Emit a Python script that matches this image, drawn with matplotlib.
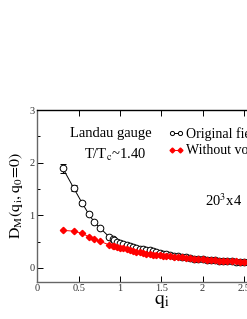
import numpy as np
import matplotlib
matplotlib.use("Agg")
import matplotlib.pyplot as plt
from matplotlib.ticker import MultipleLocator, FormatStrFormatter
from matplotlib.lines import Line2D

plt.rcParams['font.family'] = ['Liberation Serif', 'DejaVu Serif']
plt.rcParams['mathtext.fontset'] = 'stix'

# momenta q_i
q = [0.31, 0.44, 0.54, 0.62, 0.69, 0.76, 0.87, 0.91, 0.93, 0.96, 1.00, 1.04,
     1.08, 1.12, 1.16, 1.20, 1.24, 1.28, 1.32, 1.36, 1.40, 1.44, 1.48, 1.52,
     1.56, 1.60, 1.65, 1.70, 1.75, 1.80, 1.85, 1.90, 1.95, 2.00, 2.05, 2.10,
     2.15, 2.20, 2.25, 2.30, 2.35, 2.40, 2.45, 2.50, 2.55, 2.60]

# original field
d_orig = [1.89, 1.52, 1.24, 1.03, 0.87, 0.76, 0.59, 0.55, 0.53, 0.50, 0.48, 0.46,
          0.44, 0.42, 0.40, 0.385, 0.37, 0.355, 0.345, 0.335, 0.32, 0.305, 0.29, 0.275,
          0.26, 0.25, 0.235, 0.22, 0.21, 0.20, 0.19, 0.18, 0.175, 0.165, 0.16, 0.15,
          0.145, 0.14, 0.135, 0.13, 0.125, 0.12, 0.115, 0.115, 0.11, 0.11]
e_orig = [0.08, 0.05, 0.04, 0.03, 0.02, 0.02, 0.01, 0.01, 0.01, 0.01, 0.01, 0.01,
          0.01, 0.01, 0.01, 0.01, 0.01, 0.01, 0.01, 0.01, 0.01, 0.01, 0.01, 0.01,
          0.01, 0.01, 0.01, 0.01, 0.01, 0.01, 0.01, 0.01, 0.01, 0.01, 0.01, 0.01,
          0.01, 0.01, 0.01, 0.01, 0.01, 0.01, 0.01, 0.01, 0.01, 0.01]

# without vortices
d_novort = [0.715, 0.70, 0.66, 0.595, 0.545, 0.505, 0.44, 0.42, 0.41, 0.40, 0.385, 0.375,
            0.355, 0.34, 0.325, 0.31, 0.295, 0.285, 0.27, 0.26, 0.255, 0.245, 0.24, 0.235,
            0.23, 0.225, 0.215, 0.205, 0.20, 0.19, 0.185, 0.18, 0.17, 0.165, 0.16, 0.155,
            0.15, 0.14, 0.135, 0.13, 0.13, 0.125, 0.12, 0.12, 0.115, 0.11]
e_novort = [0.015, 0.012, 0.01, 0.01, 0.01, 0.01, 0.01, 0.01, 0.01, 0.01, 0.01, 0.01,
            0.01, 0.01, 0.01, 0.01, 0.01, 0.01, 0.01, 0.01, 0.01, 0.01, 0.01, 0.01,
            0.01, 0.01, 0.01, 0.01, 0.01, 0.01, 0.01, 0.01, 0.01, 0.01, 0.01, 0.01,
            0.01, 0.01, 0.01, 0.01, 0.01, 0.01, 0.01, 0.01, 0.01, 0.01]

fig = plt.figure(figsize=(2.47, 3.19), dpi=100)
ax = fig.add_axes([0.151, 0.117, 1.004, 0.538])

ax.errorbar(q, d_orig, yerr=e_orig, color='black', lw=0.7, marker='o', ms=4.8,
            mfc='white', mec='black', mew=0.7, capsize=2.5, elinewidth=0.7)
ax.errorbar(q, d_novort, yerr=e_novort, color='red', lw=0.7, marker='D', ms=3.2,
            mfc='red', mec='red', capsize=1.5, elinewidth=0.7)

ax.set_xlim(0, 3)
ax.set_ylim(-0.26, 3)
ax.xaxis.set_major_locator(MultipleLocator(0.5))
ax.xaxis.set_major_formatter(FormatStrFormatter('%g'))
ax.yaxis.set_major_locator(MultipleLocator(1))
ax.yaxis.set_minor_locator(MultipleLocator(0.5))
ax.tick_params(which='both', direction='in', top=True, right=True, labelsize=7.5,
               pad=2, labelcolor='#333333')
ax.tick_params(which='major', length=4, width=0.7)
ax.tick_params(which='minor', length=2, width=0.7)
for s in ax.spines.values():
    s.set_linewidth(1.0)
    s.set_color('#666666')
ax.spines['top'].set_color('black')

ax.set_xlabel(r'$\mathrm{q_i}$', fontsize=14, labelpad=0)
ax.set_ylabel(r'$\mathrm{D_M(q_i,q_0\!=\!0)}$', fontsize=11.5, labelpad=3)

ax.text(0.885, 2.55, 'Landau gauge', fontsize=10.5, ha='center', va='center')
ax.text(0.94, 2.15, r'T/T$_\mathrm{c}$~1.40', fontsize=10.5, ha='center', va='center')
ax.text(2.03, 1.27, r'20$^3$x4', fontsize=10.5, ha='left', va='center')

handles = [Line2D([], [], color='black', lw=0.7, marker='o', ms=3, mfc='white',
                  mec='black', mew=0.7),
           Line2D([], [], color='red', lw=0.7, marker='D', ms=2.5, mfc='red',
                  mec='red')]
ax.legend(handles, ['Original field', 'Without vortices'], loc='upper left',
          bbox_to_anchor=(0.525, 0.9), frameon=False, numpoints=2,
          fontsize=10, handlelength=1.2, handletextpad=0.15, borderaxespad=0,
          labelspacing=0.25, borderpad=0)

fig.savefig('out.png', dpi=100)
